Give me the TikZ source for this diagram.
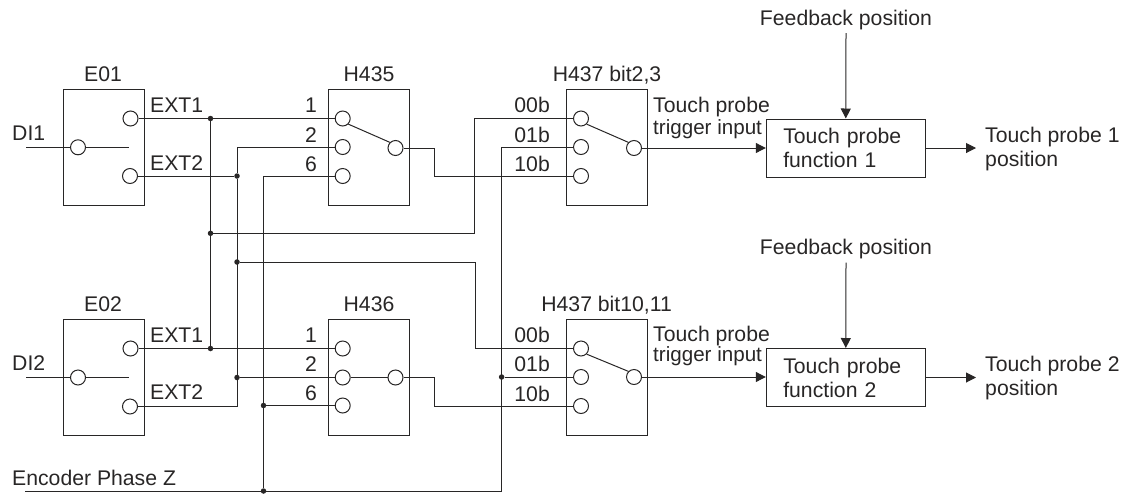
\documentclass[tikz,border=0pt]{standalone}
\usepackage{fontspec}
\setmainfont{Liberation Sans}
\definecolor{wireink}{RGB}{40,38,38}
\usetikzlibrary{arrows.meta,positioning,calc}
\tikzset{
  wire/.style={draw=wireink, line width=1pt},
  feed/.style={wire, -{Triangle[length=10pt,width=10pt]}},
  swbox/.style={draw=wireink, line width=1pt, minimum width=81pt, minimum height=116pt, inner sep=0pt},
  term/.style={circle, draw=wireink, line width=1pt, minimum size=15pt, inner sep=0pt},
  junc/.style={circle, fill=wireink, minimum size=5.5pt, inner sep=0pt},
  fnbox/.style={draw=wireink, line width=1pt, align=left, text width=125pt, inner xsep=17pt, minimum height=58pt},
  lblw/.style={anchor=base west, inner sep=0pt},
  lble/.style={anchor=base east, inner sep=0pt},
  lblc/.style={anchor=base, inner sep=0pt},
  two/.style={lblw, align=left},
  trig/.style={lblw, font=\fontsize{20.6}{24}\selectfont}
}
\begin{document}
\begin{tikzpicture}[x=1pt, y=-1pt, text=wireink,
    font=\fontsize{21.2}{24}\selectfont]
  \useasboundingbox (0,0) rectangle (1126,493);
  % boxes
  \foreach \nm/\bx/\by in {e01/104/147.5, h435/369.2/147.5, h437a/607.2/147.5,
                           e02/104/377.7, h436/369.2/377.2, h437b/607.2/377.2}
    \node[swbox] (\nm) at (\bx,\by) {};
  \node[fnbox] (fn1) at (845.8,148) {Touch probe\\function 1\\[4pt]};
  \node[fnbox] (fn2) at (845.8,377.5) {Touch probe\\function 2\\[4pt]};
  % terminals
  \foreach \nm/\px/\py in {e1i/78/147.3, e1a/130.5/118.5, e1b/130/176,
                           e2i/78/377.5, e2a/130.5/348.5, e2b/130/406.5,
                           h1a/342.7/118.5, h1b/342.7/147, h1c/342.7/176, h1o/395.5/148,
                           h2a/342.7/348.5, h2b/342.7/377.5, h2c/342.7/405.5, h2o/395.5/377.5,
                           k1a/581/118.5, k1b/581/147, k1c/581/176, k1o/634/148,
                           k2a/581/348.5, k2b/581/377, k2c/581/406, k2o/634/377}
    \node[term] (\nm) at (\px,\py) {};
  % junctions
  \foreach \nm/\px/\py in {ja/210.5/118.5, jb/237/176, jc/210.5/233.3, jd/237/262,
                           je/210.5/348.5, jf/237/377.5, jg/263.5/405.5, jh/263.5/491,
                           ji/501.6/377}
    \node[junc] (\nm) at (\px,\py) {};
  % free ends
  \coordinate (di1) at (26,147.3);
  \coordinate (di1e) at (129,147.3);
  \coordinate (di2) at (26,377.5);
  \coordinate (di2e) at (129,377.5);
  \coordinate (encz) at (25,491);
  \coordinate (fb1) at (846,33);
  \coordinate (fb2) at (846,262.7);
  \coordinate (out1) at (976,148);
  \coordinate (out2) at (976,377.5);
  % E01, E02 inputs
  \draw[wire] (di1) -- (e1i.west) (e1i.east) -- (di1e);
  \draw[wire] (di2) -- (e2i.west) (e2i.east) -- (di2e);
  % upper row
  \draw[wire] (e1a.east) -- (h1a.west);
  \draw[wire] (e1b.east) -- (jb);
  \draw[wire] (h1b.west) -| (jb);
  \draw[wire] (h1c.west) -| (jh);
  \draw[wire] (h1a.south east) -- (h1o.north west);
  \draw[wire] (h1o.east) -- ++(31,0) |- (k1c.west);
  \draw[wire] (ja) -- (je);
  \draw[wire] (jc) -- ++(264.2,0) |- (k1a.west);
  \draw[wire] (jd) -- ++(238,0) |- (k2a.west);
  % lower row
  \draw[wire] (jb) -- (jf) |- (e2b.east);
  \draw[wire] (e2a.east) -- (h2a.west);
  \draw[wire] (jf) -- (h2b.west);
  \draw[wire] (jg) -- (h2c.west);
  \draw[wire] (h2b.east) -- (h2o.west);
  \draw[wire] (h2o.east) -- ++(31,0) |- (k2c.west);
  \draw[wire] (encz) -| (ji.center) |- (k1b.west);
  \draw[wire] (ji) -- (k2b.west);
  % H437 switches and outputs
  \draw[wire] (k1a.south east) -- (k1o.north west);
  \draw[wire] (k2a.south east) -- (k2o.north west);
  \draw[feed] (k1o.east) -- (k1o.east -| fn1.west);
  \draw[feed] (k2o.east) -- (k2o.east -| fn2.west);
  \draw[feed] (fb1) -- (fn1.north);
  \draw[feed] (fb2) -- (fn2.north);
  \draw[feed] (fn1.east) -- (out1);
  \draw[feed] (fn2.east) -- (out2);
  % box titles
  \node[lblc] (te01) at (103,81.7) {E01};
  \node[lblc] (th435) at (369,81.7) {H435};
  \node[lblc] (th437a) at (607,81.7) {H437 bit2,3};
  \node[lblc] (te02) at (103,311.7) {E02};
  \node[lblc] (th436) at (369,311.7) {H436};
  \node[lblc] (th437b) at (606.6,311.7) {H437 bit10,11};
  % signal labels
  \node[lblw] (tdi1) at (12,140) {DI1};
  \node[lblw] (tdi2) at (12,370) {DI2};
  \node[lblw] (tenc) at (12,485) {Encoder Phase Z};
  \node[lblw] (tx1) at (150,112.7) {EXT1};
  \node[lblw] (tx2) at (150,170) {EXT2};
  \node[lblw] (tx3) at (150,342.7) {EXT1};
  \node[lblw] (tx4) at (150,399.5) {EXT2};
  \foreach \nm/\txt/\px/\py in {n1/1/317/112.7, n2/2/317/142.7, n3/6/317/171,
                                n4/1/317/342.7, n5/2/317/371.7, n6/6/317/400,
                                b1/00b/550/112.7, b2/01b/550/142.7, b3/10b/550/171,
                                b4/00b/550/342.7, b5/01b/550/371.7, b6/10b/550/401}
    \node[lble] (\nm) at (\px,\py) {\txt};
  \node[lblw] (tp1) at (653,112.7) {Touch probe};
  \node[trig] (ti1) at (653,134) {trigger input};
  \node[lblw] (tp2) at (653,341) {Touch probe};
  \node[trig] (ti2) at (653,361.7) {trigger input};
  \node[lblc] (tfb1) at (846,25) {Feedback position};
  \node[lblc] (tfb2) at (846,254.5) {Feedback position};
  \node[two] (tout1) at (985,166) {Touch probe 1\\position};
  \node[two] (tout2) at (985,395.5) {Touch probe 2\\position};
\end{tikzpicture}
\end{document}
